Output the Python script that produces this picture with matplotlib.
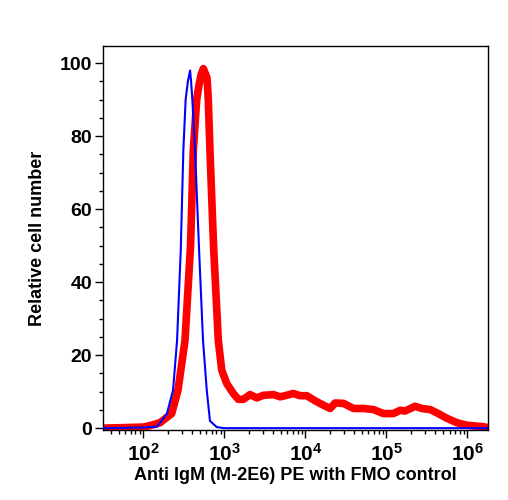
import numpy as np
import matplotlib
matplotlib.use("Agg")
import matplotlib.pyplot as plt
from matplotlib.ticker import LogLocator, FixedLocator, MultipleLocator

plt.rcParams['font.family'] = ['Liberation Sans', 'DejaVu Sans']
plt.rcParams['font.weight'] = 'bold'
plt.rcParams['mathtext.fontset'] = 'custom'
plt.rcParams['mathtext.rm'] = 'Liberation Sans:bold'
plt.rcParams['mathtext.bf'] = 'Liberation Sans:bold'

# FMO control (blue)
fmo_x = [32, 100, 148, 196, 233, 261, 290, 312, 333, 355, 378, 389, 403, 435,
         488, 546, 607, 665, 805, 1000, 1820000]
fmo_y = [0, 0.2, 0.4, 4, 10.4, 24, 48.8, 76, 90, 95, 98, 95, 90, 76,
         48.8, 24, 10.4, 2, 0.3, 0, 0]

# Anti IgM PE (red)
igm_x = [32, 100, 126, 161, 224, 268, 327, 383, 414, 456, 491, 519, 551, 611,
         634, 665, 736, 843, 929, 1072, 1291, 1489, 1718, 2075, 2512, 3027,
         4027, 4875, 5623, 7112, 8610, 10400, 13180, 16670, 20180, 23280,
         29440, 39170, 52000, 69180, 91830, 121900, 147600, 169800, 225900,
         273500, 346700, 418800, 557200, 739600, 984000, 1578000, 1815000]
igm_y = [0, 0.3, 0.8, 1.5, 4, 10.4, 24, 50, 76, 90, 94.5, 97, 98.5, 96,
         90, 76, 50, 24, 15.9, 12.2, 9.5, 7.9, 7.9, 9.2, 8.3, 9.0,
         9.2, 8.6, 8.9, 9.5, 8.9, 8.9, 7.5, 6.3, 5.4, 6.9,
         6.8, 5.4, 5.4, 5.1, 4.0, 4.0, 4.9, 4.7, 6.0,
         5.4, 5.1, 4.2, 2.7, 1.5, 0.8, 0.4, 0.1]

xticks = [1e2, 1e3, 1e4, 1e5, 1e6]
xticklabels = [r'$\mathbf{10^{2}}$', r'$\mathbf{10^{3}}$', r'$\mathbf{10^{4}}$',
               r'$\mathbf{10^{5}}$', r'$\mathbf{10^{6}}$']
yticks = [0, 20, 40, 60, 80, 100]

fig = plt.figure(figsize=(5.08, 5.0), dpi=100)
ax = fig.add_axes([0.202, 0.14, 0.759, 0.768])

ax.plot(igm_x, igm_y, color='#ff0000', lw=5.5, solid_joinstyle='round',
        solid_capstyle='round', zorder=2)
ax.plot(fmo_x, fmo_y, color='#0000ff', lw=1.5, zorder=3)

ax.set_xscale('log')
ax.set_xlim(31.5, 1.8e6)
ax.set_ylim(-0.5, 104.7)

ax.xaxis.set_major_locator(FixedLocator(xticks))
ax.set_xticklabels(xticklabels)
ax.xaxis.set_minor_locator(LogLocator(base=10, subs=np.arange(2, 10), numticks=20))
ax.set_yticks(yticks)
ax.yaxis.set_minor_locator(MultipleLocator(5))

ax.tick_params(axis='both', which='major', direction='out', length=6, width=1,
               labelsize=14)
ax.tick_params(axis='both', which='minor', direction='out', length=3, width=1)
ax.tick_params(axis='x', pad=3, labelsize=15)
ax.tick_params(axis='y', pad=1.5)
for lab in ax.get_yticklabels():
    lab.set_fontweight('bold')

for sp in ax.spines.values():
    sp.set_linewidth(1)

ax.set_xlabel('Anti IgM (M-2E6) PE with FMO control', fontsize=13,
              fontweight='bold', labelpad=2)
ax.set_ylabel('Relative cell number', fontsize=13, fontweight='bold',
              labelpad=10)

fig.savefig('out.png', dpi=100)
